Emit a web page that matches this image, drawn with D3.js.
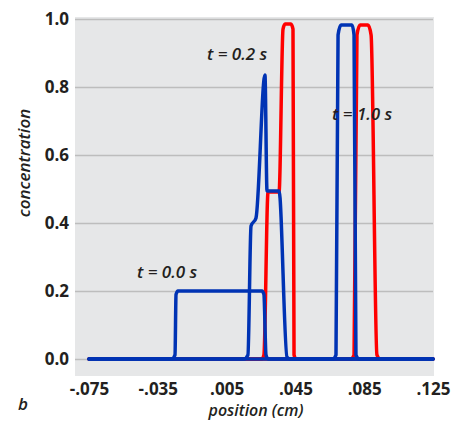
<!DOCTYPE html>
<html>
<head>
<meta charset="utf-8">
<script src="https://cdn.jsdelivr.net/npm/d3@7"></script>
<style>
  body { margin: 0; background: #fff; }
  text { font-family: "Open Sans", "DejaVu Sans", sans-serif; fill: #231f20; }
  .tick { font-weight: 700; font-size: 17px; }
  .lbl { font-style: italic; font-weight: 600; font-size: 17px; }
  .xttl { font-style: italic; font-weight: 600; font-size: 16px; }
</style>
</head>
<body>
<div id="main"></div>
<script>
const ctx = {
    w: 453,
    h: 422,
    LEFT: 75,
    RIGHT: 434,
    TOP: 17,
    BOTTOM: 376,
    STROKE_W: 3.5
};

// x ticks and y ticks
const xTicks = [-0.075, -0.035, 0.005, 0.045, 0.085, 0.125];
const yTicks = [0.0, 0.2, 0.4, 0.6, 0.8, 1.0];

// red profiles (x in cm, concentration)
const redT02 = [[-0.075, 0], [0.0256, 0], [0.0267, 0.012], [0.0291, 0.491], [0.0355, 0.491],
    [0.0378, 0.97], [0.0390, 0.985], [0.0424, 0.985], [0.0436, 0.97], [0.0442, 0.012],
    [0.0453, 0], [0.125, 0]];
const redT10 = [[-0.075, 0], [0.0773, 0], [0.0791, 0.012], [0.0808, 0.953], [0.0826, 0.982],
    [0.0872, 0.982], [0.0890, 0.953], [0.0924, 0.012], [0.0942, 0], [0.125, 0]];

// blue profiles
const blueT00 = [[-0.075, 0], [-0.0267, 0], [-0.0250, 0.012], [-0.0244, 0.19], [-0.0233, 0.2],
    [0.0256, 0.2], [0.0267, 0.19], [0.0279, 0.012], [0.0291, 0], [0.125, 0]];
const blueT02 = [[-0.075, 0], [0.0151, 0], [0.0174, 0.012], [0.0192, 0.391], [0.0221, 0.415],
    [0.0273, 0.835], [0.0285, 0.494], [0.0355, 0.494], [0.0401, 0.006], [0.0419, 0], [0.125, 0]];
const blueT10 = [[-0.075, 0], [0.0669, 0], [0.0686, 0.012], [0.0698, 0.953], [0.0715, 0.982],
    [0.0779, 0.982], [0.0791, 0.953], [0.0802, 0.012], [0.0820, 0], [0.125, 0]];

// time labels [text, x, y]
const timeLabels = [["t = 0.0 s", -0.0471, 0.238], ["t = 0.2 s", -0.0064, 0.879], ["t = 1.0 s", 0.0663, 0.703]];

function createViz(){
    let svg = d3.select("#main").append("svg")
        .attr("width", ctx.w).attr("height", ctx.h);

    let xScale = d3.scaleLinear().domain([-0.075, 0.125]).range([89, 433]);
    let yScale = d3.scaleLinear().domain([0, 1]).range([359, 19]);

    // plot background
    svg.append("rect")
        .attr("x", ctx.LEFT).attr("y", ctx.TOP)
        .attr("width", ctx.RIGHT - ctx.LEFT)
        .attr("height", ctx.BOTTOM - ctx.TOP)
        .attr("fill", "#e6e7e8");

    // y axis with gridlines
    let yAxis = svg.append("g")
        .attr("transform", `translate(${ctx.LEFT},0)`)
        .call(d3.axisLeft(yScale).tickValues(yTicks)
            .tickSize(-(ctx.RIGHT - ctx.LEFT - 1)).tickPadding(6)
            .tickFormat(d3.format(".1f")));
    yAxis.select(".domain").remove();
    yAxis.selectAll("line").attr("stroke", "#bdbdbd").attr("stroke-width", 1.5);
    yAxis.selectAll("text")
        .attr("class", "tick")
        .attr("font-family", null).attr("font-size", null)
        .attr("fill", "#231f20");

    // x axis (labels only), hyphen minus and no leading zero
    let xAxis = svg.append("g")
        .attr("transform", `translate(0,${ctx.BOTTOM})`)
        .call(d3.axisBottom(xScale).tickValues(xTicks)
            .tickSize(0).tickPadding(7)
            .tickFormat((d) => d3.format(".3f")(d).replace("\u2212", "-").replace("0.", ".")));
    xAxis.select(".domain").remove();
    xAxis.selectAll("text")
        .attr("class", "tick")
        .attr("font-family", null).attr("font-size", null)
        .attr("fill", "#231f20");

    let line = d3.line()
        .x((d) => xScale(d[0]))
        .y((d) => yScale(d[1]))
        .curve(d3.curveMonotoneX);

    [redT02, redT10].forEach((s) => {
        svg.append("path").datum(s)
            .attr("d", line)
            .attr("fill", "none")
            .attr("stroke", "#ff0000")
            .attr("stroke-width", ctx.STROKE_W)
            .attr("stroke-linejoin", "round")
            .attr("stroke-linecap", "round");
    });
    [blueT00, blueT02, blueT10].forEach((s) => {
        svg.append("path").datum(s)
            .attr("d", line)
            .attr("fill", "none")
            .attr("stroke", "#0033b4")
            .attr("stroke-width", ctx.STROKE_W)
            .attr("stroke-linejoin", "round")
            .attr("stroke-linecap", "round");
    });

    // time labels
    svg.selectAll(".tl")
        .data(timeLabels)
        .enter()
        .append("text")
        .attr("class", "lbl")
        .attr("x", (d) => xScale(d[1]))
        .attr("y", (d) => yScale(d[2]))
        .text((d) => d[0]);

    // axis titles
    svg.append("text")
        .attr("class", "lbl")
        .attr("transform", `translate(30,163) rotate(-90)`)
        .style("text-anchor", "middle")
        .text("concentration");
    svg.append("text")
        .attr("class", "xttl")
        .attr("x", 256).attr("y", 416)
        .style("text-anchor", "middle")
        .text("position (cm)");
    svg.append("text")
        .attr("class", "lbl")
        .attr("x", 18).attr("y", 410)
        .text("b");
}

createViz();
</script>
</body>
</html>
